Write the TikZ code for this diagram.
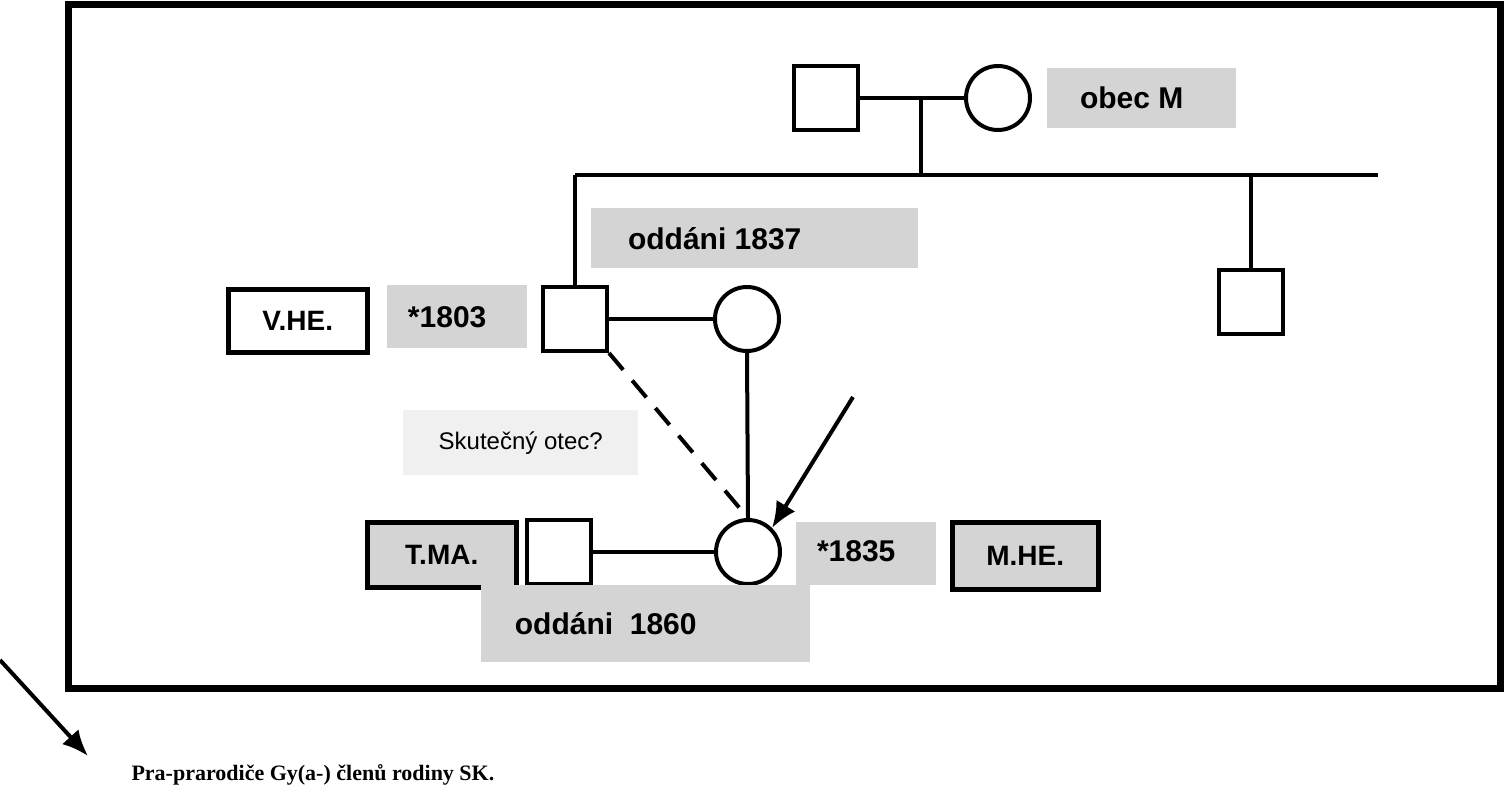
\documentclass[tikz,border=0pt]{standalone}
\usepackage{fontspec}
\usetikzlibrary{arrows.meta}
\setmainfont{Liberation Sans}
\newfontfamily\serifb{Liberation Serif}
\begin{document}
\begin{tikzpicture}[x=1pt,y=-1pt,
  ln/.style={line width=4pt},
  sq/.style={draw,line width=4pt,fill=white,minimum width=64pt,minimum height=64pt,inner sep=0pt},
  ci/.style={draw,circle,line width=4pt,fill=white,minimum size=64pt,inner sep=0pt},
  gl/.style={fill=black!17,font=\bfseries\fontsize{30}{30}\selectfont,inner sep=0pt,anchor=north west},
  bx/.style={draw,line width=4.5pt,font=\bfseries\fontsize{28}{28}\selectfont,inner sep=0pt,anchor=north west}]
\useasboundingbox (0,0) rectangle (1504,800);
\draw[line width=7pt] (68,5) rectangle (1500,688);
% top couple
\node[sq] (s1) at (826,98) {};
\node[ci] (c1) at (998,98) {};
\draw[ln] (s1.east) -- (c1.west);
\coordinate (m1) at (921,98);
\coordinate (h1) at (921,175);
\draw[ln] (m1) -- (h1);
\coordinate (hl) at (575,175);
\coordinate (hr) at (1378,175);
\draw[ln] (hl) -- (hr);
\node[gl,minimum width=189pt,minimum height=60pt] (obec) at (1047,68) {\hspace*{-20pt}obec M};
% right child
\node[sq] (s3) at (1251,302) {};
\coordinate (h3) at (1251,175);
\draw[ln] (h3) -- (s3.north);
% middle couple
\node[gl,minimum width=327pt,minimum height=60pt] (o1837) at (591,208) {\hspace*{-80pt}oddáni 1837};
\node[sq] (s2) at (575,319) {};
\draw[ln] (hl) -- (s2.north);
\node[ci] (c2) at (747,319) {};
\draw[ln] (s2.east) -- (c2.west);
\node[bx,fill=white,minimum width=139pt,minimum height=63pt] (vhe) at (226,287) {V.HE.};
\node[gl,minimum width=140pt,minimum height=63pt] (b1803) at (387,285) {\hspace*{-20pt}*1803};
% child
\node[ci] (c3) at (748,552) {};
\draw[ln] (c2.south) -- (c3.north);
\draw[ln,dash pattern=on 22pt off 14pt] (s2.south east) -- (c3.north);
\coordinate (a0) at (853,397);
\draw[ln,-{Latex[length=26pt,width=22pt]}] (a0) -- (c3.north east);
\node[fill=black!6,minimum width=235pt,minimum height=65pt,inner sep=0pt,anchor=north west,font=\fontsize{24}{24}\selectfont] (sk) at (403,410) {Skutečný otec?};
\node[sq] (s4) at (559,552) {};
\draw[ln] (s4.east) -- (c3.west);
\node[bx,fill=black!17,minimum width=149pt,minimum height=65pt] (tma) at (365,520) {T.MA.};
\node[gl,minimum width=140pt,minimum height=63pt] (b1835) at (796,522) {\raisebox{6pt}{\hspace*{-20pt}*1835}};
\node[bx,fill=black!17,minimum width=146pt,minimum height=67pt] (mhe) at (950,520) {M.HE.};
\node[gl,minimum width=329pt,minimum height=77pt] (o1860) at (481,585) {\hspace*{-80pt}oddáni\ \ 1860};
% bottom
\coordinate (b0) at (0,660);
\node[anchor=west,font=\serifb\bfseries\fontsize{22}{22}\selectfont] (pra) at (128,775) {Pra-prarodiče Gy(a-) členů rodiny SK.};
\coordinate (b1) at (88,756);
\draw[ln,-{Latex[length=26pt,width=22pt]}] (b0) -- (b1);
\end{tikzpicture}
\end{document}
